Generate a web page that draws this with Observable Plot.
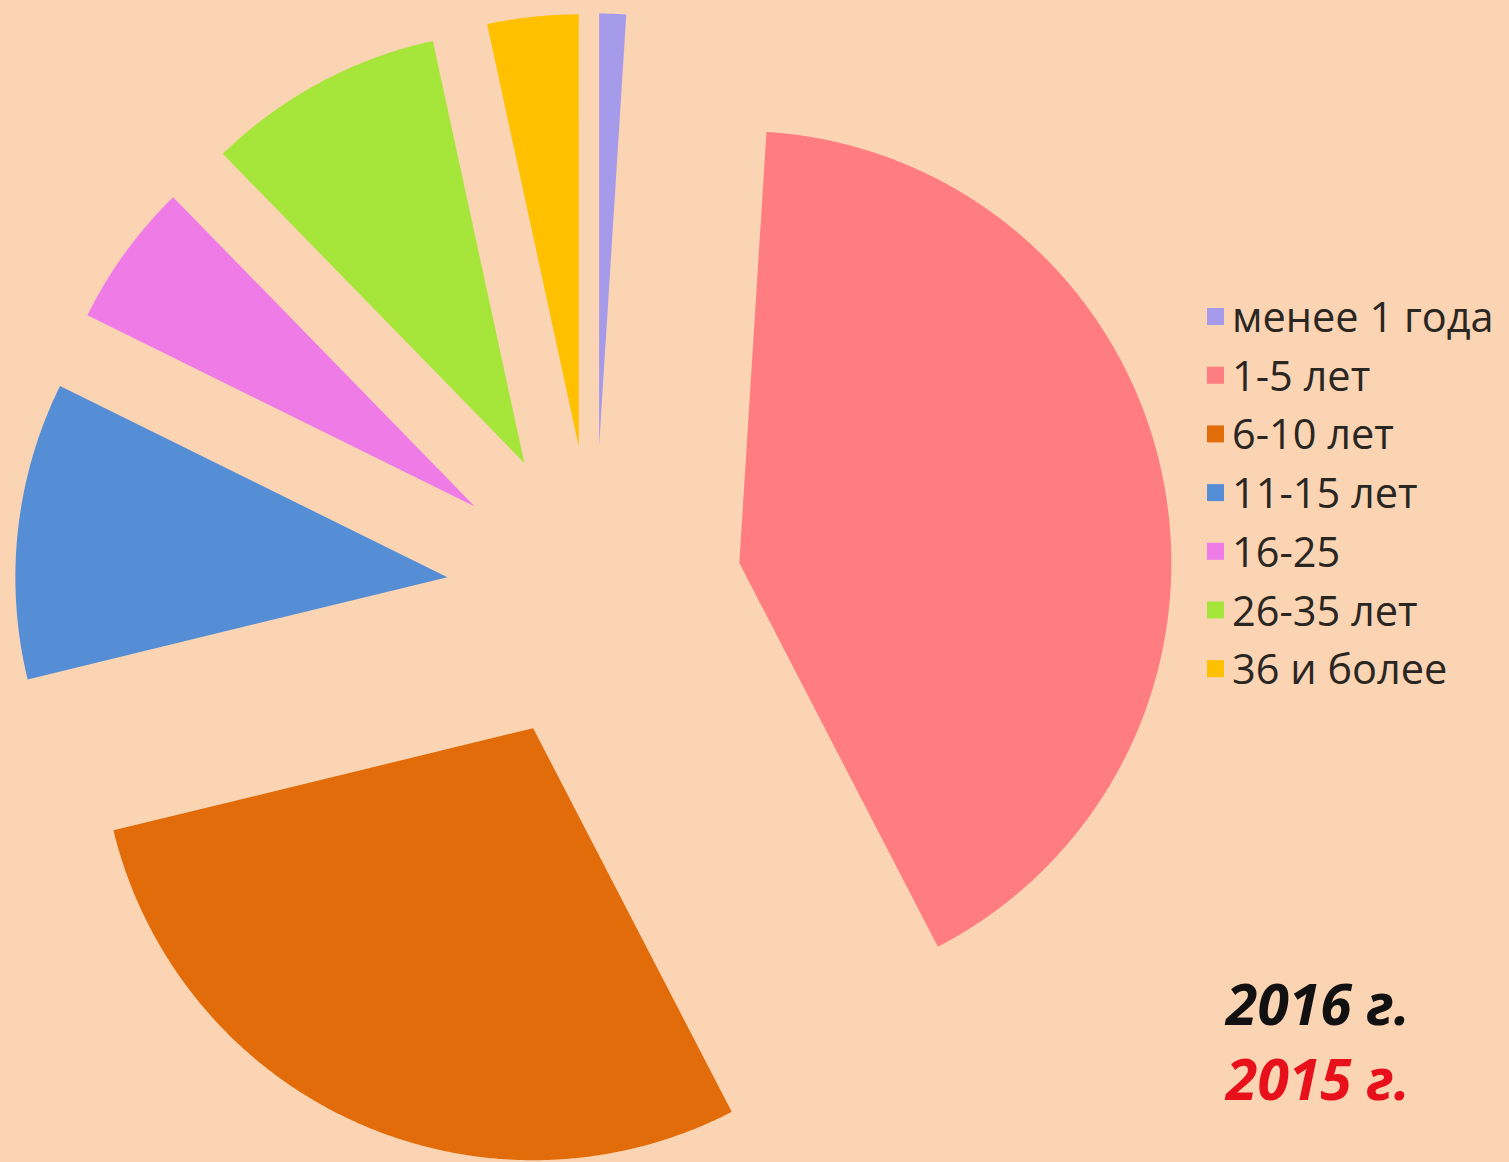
<!DOCTYPE html>
<html>
<head>
<meta charset="utf-8">
<script src="https://cdn.jsdelivr.net/npm/d3@7"></script>
<script src="https://cdn.jsdelivr.net/npm/@observablehq/plot@0.6"></script>
<style>
  html, body { margin: 0; padding: 0; background: #FBD4B4; overflow: hidden; }
  #wrap { position: relative; width: 1509px; height: 1162px; }
  #overlay { position: absolute; left: 0; top: 0; pointer-events: none; }
</style>
</head>
<body>
<div id="wrap"></div>
<script>
// ---- data ----
const categories = ["менее 1 года", "1-5 лет", "6-10 лет", "11-15 лет", "16-25", "26-35 лет", "36 и более"];
const values = [1.0, 41.4, 28.8, 11.1, 5.4, 8.9, 3.4];
const colors = ["#A59BEA", "#FF7C80", "#E36C0A", "#558ED5", "#EE7BE6", "#A6E63A", "#FFC000"];
const yearLabels = ["2016 г.", "2015 г."];
const yearColors = ["#111111", "#E8101A"];

// ---- geometry (unit pie, exploded) ----
const W = 1509, H = 1162;
const cx = 594, cy = 593, R = 432;
const explode = 148 / R;
const arcs = d3.pie().sort(null).value(d => d)(values);
const pts = [];
arcs.forEach((a, i) => {
  const mid = (a.startAngle + a.endAngle) / 2;
  const ox = explode * Math.sin(mid), oy = explode * Math.cos(mid);
  const cat = categories[i];
  pts.push({cat, x: ox, y: oy});
  const n = Math.max(2, Math.ceil((a.endAngle - a.startAngle) / 0.005));
  for (let k = 0; k <= n; k++) {
    const t = a.startAngle + (a.endAngle - a.startAngle) * k / n;
    pts.push({cat, x: ox + Math.sin(t), y: oy + Math.cos(t)});
  }
});

const chart = Plot.plot({
  width: W,
  height: H,
  margin: 0,
  style: {background: "#FBD4B4"},
  x: {domain: [-cx / R, (W - cx) / R], range: [0, W], axis: null},
  y: {domain: [-(H - cy) / R, cy / R], range: [H, 0], axis: null},
  color: {domain: categories, range: colors},
  marks: [
    Plot.line(pts, {x: "x", y: "y", z: "cat", fill: "cat", stroke: "none", curve: "linear-closed"})
  ]
});
document.getElementById("wrap").appendChild(chart);

// ---- legend & year labels (overlay) ----
const svg = d3.select("#wrap").append("svg")
  .attr("id", "overlay").attr("width", W).attr("height", H);
const lx = 1207, ly0 = 332, dy = 58.7;
categories.forEach((c, i) => {
  const by = ly0 + i * dy;
  svg.append("rect").attr("x", lx).attr("y", by - 24).attr("width", 17).attr("height", 17).attr("fill", colors[i]);
  svg.append("text").attr("x", lx + 25).attr("y", by)
    .attr("font-family", "'Open Sans', sans-serif").attr("font-size", 41.5)
    .attr("fill", "#2a2622").text(c);
});
yearLabels.forEach((t, i) => {
  svg.append("text").attr("x", 1226).attr("y", 1025 + i * 75)
    .attr("font-family", "'Open Sans', sans-serif").attr("font-size", 57)
    .attr("font-weight", "bold").attr("font-style", "italic")
    .attr("fill", yearColors[i]).text(t);
});
</script>
</body>
</html>
